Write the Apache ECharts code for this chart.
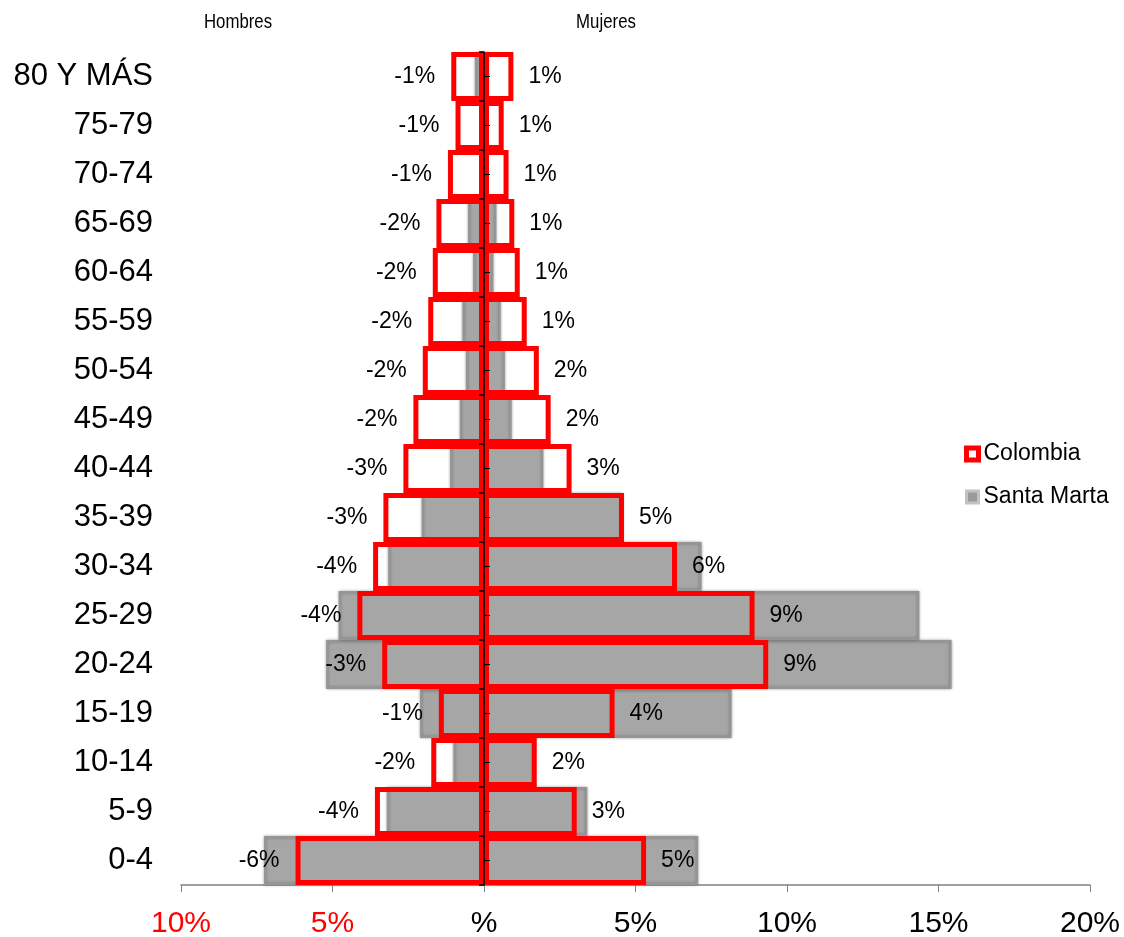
<!DOCTYPE html>
<html>
<head>
<meta charset="utf-8">
<script src="https://cdn.jsdelivr.net/npm/echarts@6/dist/echarts.min.js"></script>
<style>
  html, body { margin: 0; padding: 0; background: #fff; }
  #chart { width: 1124px; height: 937px; }
</style>
</head>
<body>
<div id="chart"></div>
<script>
// Age groups, bottom to top
const ageGroups = ['0-4', '5-9', '10-14', '15-19', '20-24', '25-29', '30-34', '35-39', '40-44',
  '45-49', '50-54', '55-59', '60-64', '65-69', '70-74', '75-79', '80 Y MÁS'];

// Colombia, % of population (men negative)
const colombiaMen = [-6.22, -3.60, -1.74, -1.49, -3.36, -4.18, -3.66, -3.32, -2.66,
  -2.33, -2.02, -1.84, -1.69, -1.57, -1.19, -0.94, -1.08];
const colombiaWomen = [5.35, 3.06, 1.74, 4.31, 9.38, 8.93, 6.37, 4.62, 2.89,
  2.20, 1.81, 1.41, 1.18, 1.00, 0.81, 0.65, 0.97];

// Santa Marta, % of population (men negative)
const santaMartaMen = [-7.26, -3.21, -1.01, -2.11, -5.21, -4.80, -3.16, -2.06, -1.12,
  -0.80, -0.60, -0.71, -0.36, -0.53, -0.10, -0.10, -0.30];
const santaMartaWomen = [7.07, 3.41, 1.70, 8.17, 15.43, 14.37, 7.18, 4.58, 1.96,
  0.91, 0.69, 0.55, 0.31, 0.41, 0.10, 0.08, 0.15];

// x axis ticks from -10 to 20 in steps of 5
const xTickLabels = ['10%', '5%', '%', '5%', '10%', '15%', '20%'];
const xMin = -10, xMax = 20, xStep = 5;

// plot area
const W = 1124, H = 937;
const gridLeft = 181, gridRight = 34, gridTop = 52, gridBottom = 52;
const gridWidth = W - gridLeft - gridRight;
// shift that brings a left-side axis onto the zero of the x scale
const zeroShift = -gridWidth * (0 - xMin) / (xMax - xMin);

const chart = echarts.init(document.getElementById('chart'), null, { renderer: 'canvas' });

const redStyle = { color: 'rgba(0,0,0,0)', borderColor: '#ff0000', borderWidth: 5 };
const grayStyle = {
  color: '#a6a6a6', borderColor: '#969696', borderWidth: 2,
  shadowColor: 'rgba(0,0,0,0.3)', shadowBlur: 3
};
const pctLabel = p => Math.round(p.value) + '%';
const headerStyle = text => ({
  text: text, fontFamily: '"Liberation Sans", Arial, sans-serif', fontSize: 21,
  fill: '#000', textAlign: 'center', textVerticalAlign: 'middle'
});

const option = {
  animation: false,
  backgroundColor: '#ffffff',
  textStyle: { fontFamily: '"Liberation Sans", Arial, sans-serif' },
  grid: {
    left: gridLeft, right: gridRight, top: gridTop, bottom: gridBottom,
    containLabel: false, outerBoundsMode: 'none'
  },
  graphic: [
    { type: 'text', x: 238, y: 22, scaleX: 0.8, style: headerStyle('Hombres') },
    { type: 'text', x: 606, y: 22, scaleX: 0.8, style: headerStyle('Mujeres') }
  ],
  legend: {
    orient: 'vertical',
    left: 964,
    top: 441,
    padding: 0,
    icon: 'rect',
    itemWidth: 12,
    itemHeight: 12,
    itemGap: 17,
    textStyle: { fontSize: 23, color: '#000', lineHeight: 26 },
    data: [
      { name: 'Colombia', itemStyle: { color: '#ffffff', borderColor: '#ff0000', borderWidth: 5 } },
      { name: 'Santa Marta', itemStyle: { color: '#9a9a9a', borderColor: '#c2c2c2', borderWidth: 3 } }
    ]
  },
  xAxis: {
    type: 'value',
    min: xMin,
    max: xMax,
    interval: xStep,
    axisLine: { show: true, onZero: false, lineStyle: { color: '#808080', width: 1.5 } },
    axisTick: { show: true, length: 7, lineStyle: { color: '#808080', width: 1 } },
    splitLine: { show: false },
    axisLabel: {
      fontSize: 30,
      margin: 24,
      formatter: v => xTickLabels[Math.round((v - xMin) / xStep)],
      color: v => (v < 0 ? '#ff0000' : '#000000')
    }
  },
  yAxis: [
    {
      // centre axis line with ticks at group boundaries
      type: 'category',
      data: ageGroups,
      z: 10,
      axisLine: { show: true, onZero: true, lineStyle: { color: '#000', width: 1.5 } },
      axisTick: { show: true, length: 5, lineStyle: { color: '#000', width: 1.5 } },
      axisLabel: { show: false },
      splitLine: { show: false }
    },
    {
      // inner ticks at group centres
      type: 'category',
      data: ageGroups,
      position: 'left',
      offset: zeroShift,
      z: 10,
      axisLine: { show: false, onZero: false },
      axisTick: { show: true, inside: true, alignWithLabel: true, length: 6, lineStyle: { color: '#000', width: 1 } },
      axisLabel: { show: false },
      splitLine: { show: false }
    },
    {
      // age group labels on the far left
      type: 'category',
      data: ageGroups,
      position: 'left',
      axisLine: { show: false, onZero: false },
      axisTick: { show: false },
      axisLabel: { fontSize: 31, color: '#000', margin: 28 },
      splitLine: { show: false }
    }
  ],
  series: [
    { name: 'Santa Marta', type: 'bar', yAxisIndex: 0, data: santaMartaMen, barGap: '-100%', barCategoryGap: '0%', itemStyle: grayStyle },
    { name: 'Santa Marta', type: 'bar', yAxisIndex: 0, data: santaMartaWomen, barGap: '-100%', barCategoryGap: '0%', itemStyle: grayStyle },
    {
      name: 'Colombia', type: 'bar', yAxisIndex: 0, data: colombiaMen, barGap: '-100%', barCategoryGap: '0%',
      itemStyle: redStyle,
      label: { show: true, position: 'left', distance: 16, fontSize: 23, color: '#000', formatter: pctLabel }
    },
    {
      name: 'Colombia', type: 'bar', yAxisIndex: 0, data: colombiaWomen, barGap: '-100%', barCategoryGap: '0%',
      itemStyle: redStyle,
      label: { show: true, position: 'right', distance: 15, fontSize: 23, color: '#000', formatter: pctLabel }
    }
  ]
};

chart.setOption(option);
</script>
</body>
</html>
